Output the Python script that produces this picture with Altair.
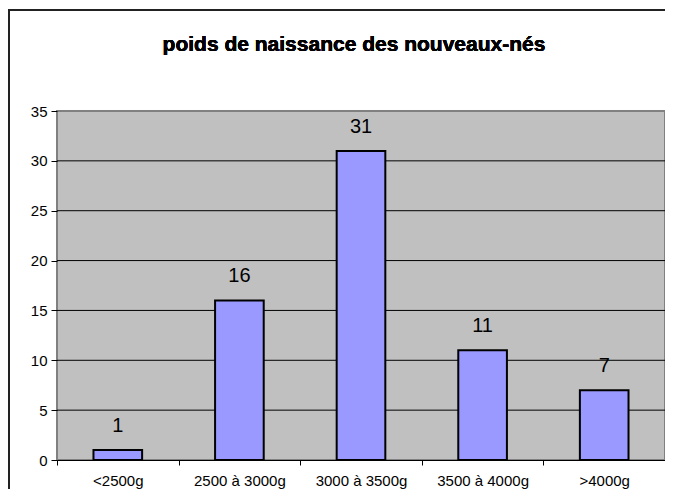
import altair as alt
import pandas as pd

categories = ["<2500g", "2500 à 3000g", "3000 à 3500g", "3500 à 4000g", ">4000g"]
counts = [1, 16, 31, 11, 7]
y_ticks = [0, 5, 10, 15, 20, 25, 30, 35]
grid_values = [5, 10, 15, 20, 25, 30]
title_text = "poids de naissance des nouveaux-nés"

df = pd.DataFrame({"cat": categories, "n": counts})
grid_df = pd.DataFrame({"v": grid_values})

FONT = "Liberation Sans"
W, H = 608, 349

xenc = alt.X("cat:N", sort=categories, title=None,
             scale=alt.Scale(paddingInner=0, paddingOuter=0),
             axis=alt.Axis(labelAngle=0, tickBand="extent", labelFontSize=15,
                           labelFont=FONT, labelColor="black", labelPadding=8,
                           tickColor="black", tickSize=5, domainColor="black",
                           domainWidth=1, grid=False))
yscale = alt.Scale(domain=[0, 35], nice=False)

grid = alt.Chart(grid_df).mark_rule(color="black", strokeWidth=1).encode(
    y=alt.Y("v:Q", scale=yscale)
)

bars = alt.Chart(df).mark_bar(
    width={"band": 0.4}, color="#9999FF", stroke="black", strokeWidth=2
).encode(
    x=xenc,
    y=alt.Y("n:Q", scale=yscale, title=None,
            axis=alt.Axis(values=y_ticks, labelFontSize=15, labelFont=FONT,
                          labelColor="black", tickColor="black", tickSize=6,
                          labelPadding=4, domain=False, grid=False))
)

labels = alt.Chart(df).mark_text(
    fontSize=20, font=FONT, color="black", baseline="alphabetic", dy=-18
).encode(
    x=alt.X("cat:N", sort=categories),
    y=alt.Y("n:Q", scale=yscale),
    text="n:Q"
)

title = alt.Chart(df).mark_text(
    fontSize=21, font=FONT, fontWeight="bold", color="black", align="center",
    baseline="alphabetic"
).encode(
    x=alt.value(297), y=alt.value(-60), text=alt.value(title_text)
)

border_left = alt.Chart(df).mark_rule(color="#222222", strokeWidth=2).encode(
    x=alt.value(-48), y=alt.value(-101), y2=alt.value(380)
)
border_top = alt.Chart(df).mark_rule(color="#222222", strokeWidth=2).encode(
    x=alt.value(-49), x2=alt.value(W), y=alt.value(-101)
)

chart = alt.layer(grid, bars, labels, title, border_left, border_top).properties(
    width=W, height=H,
    autosize=alt.AutoSizeParams(type="none"),
    padding={"left": 49, "top": 103, "right": 0, "bottom": 29},
).configure(
    background="white",
    view=alt.ViewConfig(fill="#C0C0C0", stroke="#808080", strokeWidth=2),
)

chart.save("out.html", embed_options={"renderer": "svg", "actions": False})
